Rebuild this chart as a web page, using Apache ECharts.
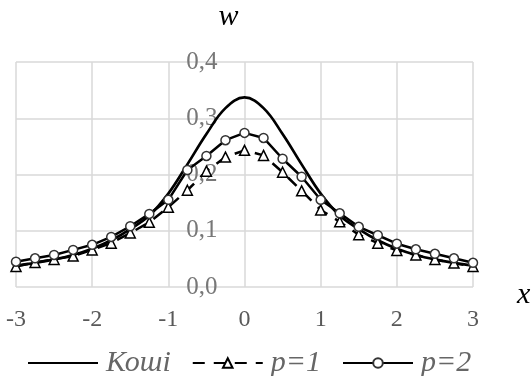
<!DOCTYPE html>
<html>
<head>
<meta charset="utf-8">
<script src="https://cdn.jsdelivr.net/npm/echarts@6/dist/echarts.min.js"></script>
<style>
html,body{margin:0;padding:0;background:#fff;}
#c{width:531px;height:376px;}
</style>
</head>
<body>
<div id="c"></div>
<script>
const xValues = [-3,-2.75,-2.5,-2.25,-2,-1.75,-1.5,-1.25,-1,-0.75,-0.5,-0.25,0,0.25,0.5,0.75,1,1.25,1.5,1.75,2,2.25,2.5,2.75,3];
const cauchy = [0.038,0.043,0.049,0.057,0.068,0.083,0.103,0.127,0.166,0.218,0.272,0.318,0.337,0.318,0.272,0.218,0.166,0.127,0.103,0.083,0.068,0.057,0.049,0.043,0.038];
const p1 = [0.0366,0.0435,0.049,0.055,0.066,0.078,0.096,0.115,0.142,0.172,0.206,0.231,0.243,0.234,0.204,0.171,0.137,0.116,0.093,0.078,0.065,0.057,0.049,0.0425,0.0366];
const p2 = [0.045,0.051,0.057,0.066,0.075,0.089,0.108,0.13,0.155,0.208,0.233,0.261,0.274,0.265,0.228,0.196,0.155,0.131,0.107,0.092,0.077,0.067,0.059,0.051,0.043];
const seriesNames = ['Коші','p=1','p=2'];
const xTickLabels = ['-3','-2','-1','0','1','2','3'];
const yTickLabels = ['0,0','0,1','0,2','0,3','0,4'];

const pairs = arr => xValues.map((x,i)=>[x,arr[i]]);
const serif = "'Liberation Serif', 'DejaVu Serif', serif";
const chart = echarts.init(document.getElementById('c'));
chart.setOption({
  animation:false,
  backgroundColor:'#fff',
  grid:{left:16,right:58,top:62,bottom:89,containLabel:false,outerBoundsMode:'none'},
  xAxis:{
    type:'value',min:-3,max:3,interval:1,
    name:'x',nameLocation:'end',nameGap:44,
    nameTextStyle:{fontFamily:serif,fontStyle:'italic',fontSize:30,color:'#000',verticalAlign:'top',lineHeight:16},
    axisLine:{show:false,onZero:false},axisTick:{show:false},
    splitLine:{show:true,lineStyle:{color:'#d9d9d9',width:1.5}},
    axisLabel:{fontFamily:serif,fontSize:24,color:'#595959',margin:21,
      formatter:v=>xTickLabels[Math.round(v)+3]}
  },
  yAxis:{
    type:'value',min:0,max:0.4,interval:0.1,position:'left',offset:-228.5,
    name:'w',nameLocation:'end',nameGap:30,
    nameTextStyle:{fontFamily:serif,fontStyle:'italic',fontSize:30,color:'#000',align:'right',padding:[0,6,0,0]},
    axisLine:{show:false,onZero:false},axisTick:{show:false},
    splitLine:{show:true,lineStyle:{color:'#d9d9d9',width:1.5}},
    axisLabel:{fontFamily:serif,fontSize:25,color:'#777',margin:27,
      formatter:v=>yTickLabels[Math.round(v*10)]}
  },
  legend:{
    left:27,top:348,padding:0,itemWidth:70,itemHeight:12,itemGap:21,
    textStyle:{fontFamily:serif,fontStyle:'italic',fontSize:30,color:'#666',padding:[0,0,0,3]},
    data:[{name:seriesNames[0],itemStyle:{opacity:0}},seriesNames[1],seriesNames[2]]
  },
  series:[
    {name:seriesNames[0],type:'line',data:pairs(cauchy),smooth:0.4,showSymbol:false,symbol:'none',
     lineStyle:{color:'#000',width:2.7},itemStyle:{color:'#000',opacity:0}},
    {name:seriesNames[1],type:'line',data:pairs(p1),symbol:'triangle',symbolSize:10,
     lineStyle:{color:'#000',width:2.5,type:[12,9]},
     itemStyle:{color:'#fff',borderColor:'#000',borderWidth:1.5}},
    {name:seriesNames[2],type:'line',data:pairs(p2),symbol:'circle',symbolSize:9,
     lineStyle:{color:'#000',width:2.5},
     itemStyle:{color:'#fff',borderColor:'#333',borderWidth:1.5}}
  ]
});
</script>
</body>
</html>
